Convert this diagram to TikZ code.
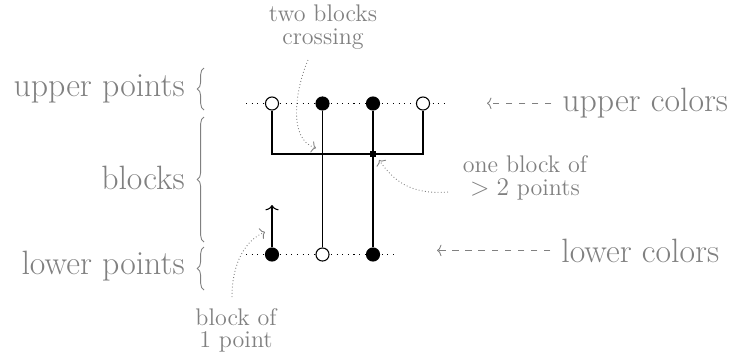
\documentclass[tikz,border=0pt]{standalone}
\usetikzlibrary{arrows.meta,decorations.pathreplacing}
\definecolor{lblgray}{gray}{0.5}
\begin{document}
\begin{tikzpicture}[x=0.5657pt,y=-0.5657pt,
  lbl/.style={text=lblgray, inner sep=0pt},
  big/.style={lbl, font=\fontsize{19.1}{22}\selectfont},
  small/.style={lbl, font=\fontsize{13.6}{12.5}\selectfont},
  opendot/.style={circle, draw=black, fill=white, line width=0.6pt, minimum size=7.4pt, inner sep=0pt},
  fulldot/.style={circle, draw=black, fill=black, line width=0.6pt, minimum size=7.4pt, inner sep=0pt},
  sqnode/.style={rectangle, fill=black, minimum size=3.8pt, inner sep=0pt},
  rowline/.style={line width=0.6pt, dash pattern=on 0.6pt off 2.6pt},
  blockline/.style={line width=0.6pt},
  bracestyle/.style={draw=lblgray, line width=0.5pt, decorate, decoration={brace, amplitude=3.8pt}},
  dashedarrow/.style={draw=lblgray, line width=0.5pt, dash pattern=on 3.7pt off 3.7pt, -{To[length=2.5pt,width=6.5pt]}},
  dottedarrow/.style={draw=lblgray, line width=0.5pt, dash pattern=on 0.5pt off 1.3pt, -{To[length=2.5pt,width=6.5pt]}},
  blackarrow/.style={line width=0.6pt, -{To[length=3pt,width=7.5pt]}},
]
\useasboundingbox (0,0) rectangle (731,353);

% row lines
\coordinate (ul) at (246,103.5);
\coordinate (ur) at (448,103.5);
\coordinate (ll) at (246,254.5);
\coordinate (lr) at (398,254.5);
\draw[rowline] (ul) -- (ur);
\draw[rowline] (ll) -- (lr);

% points
\node[opendot] (u1) at (272,103.5) {};
\node[fulldot] (u2) at (322.5,103.5) {};
\node[fulldot] (u3) at (373,103.5) {};
\node[opendot] (u4) at (423,103.5) {};
\node[fulldot] (l1) at (272,254.5) {};
\node[opendot] (l2) at (322.5,254.5) {};
\node[fulldot] (l3) at (373,254.5) {};

% blocks
\coordinate (b1) at (272,154);
\coordinate (b4) at (423,154);
\coordinate (a1) at (272,205);
\draw[blockline] (u1) -- (b1) -- (b4) -- (u4);
\draw[blockline] (u2) -- (l2);
\draw[blockline] (u3) -- (l3);
\node[sqnode] (sq) at (373,154) {};
\draw[blackarrow] (l1) -- (a1);

% left labels and braces
\node[big, anchor=base east] (tup) at (185,96) {upper points};
\node[big, anchor=base east] (tbl) at (185,189) {blocks};
\node[big, anchor=base east] (tlo) at (185,274) {lower points};
\coordinate (br1a) at (204,110);
\coordinate (br1b) at (204,68);
\coordinate (br2a) at (204,242);
\coordinate (br2b) at (204,117);
\coordinate (br3a) at (204,290);
\coordinate (br3b) at (204,247);
\draw[bracestyle] (br1a) -- (br1b);
\draw[bracestyle] (br2a) -- (br2b);
\draw[bracestyle] (br3a) -- (br3b);

% right labels
\node[big, inner xsep=6pt, anchor=base west] (uc) at (551.4,111.7) {upper colors};
\node[big, inner xsep=6pt, anchor=base west] (lc) at (550.4,262) {lower colors};
\coordinate (uaend) at (487,0);
\coordinate (laend) at (437,0);
\draw[dashedarrow] (uc.west) -- (uc.west -| uaend);
\draw[dashedarrow] (lc.west) -- (lc.west -| laend);

% small labels
\node[small, anchor=base] (tcross) at (323,21.7) {\begin{tabular}[t]{@{}c@{}}two blocks\\crossing\end{tabular}};
\node[small, anchor=base] (tone) at (525,172) {\begin{tabular}[t]{@{}c@{}}one block of\\$>2$ points\end{tabular}};
\node[small, anchor=base] (tsingle) at (236,325) {\begin{tabular}[t]{@{}c@{}}block of\\1 point\end{tabular}};

\coordinate (c1s) at (308,60);
\coordinate (c1e) at (316,148);
\draw[dottedarrow] (c1s) .. controls (295,90) and (288,140) .. (c1e);
\coordinate (c2s) at (448,192);
\coordinate (c2e) at (379,160);
\draw[dottedarrow] (c2s) .. controls (410,195) and (393,180) .. (c2e);
\coordinate (c3s) at (232,297);
\coordinate (c3e) at (265,232);
\draw[dottedarrow] (c3s) .. controls (232,262) and (246,240) .. (c3e);
\end{tikzpicture}
\end{document}
